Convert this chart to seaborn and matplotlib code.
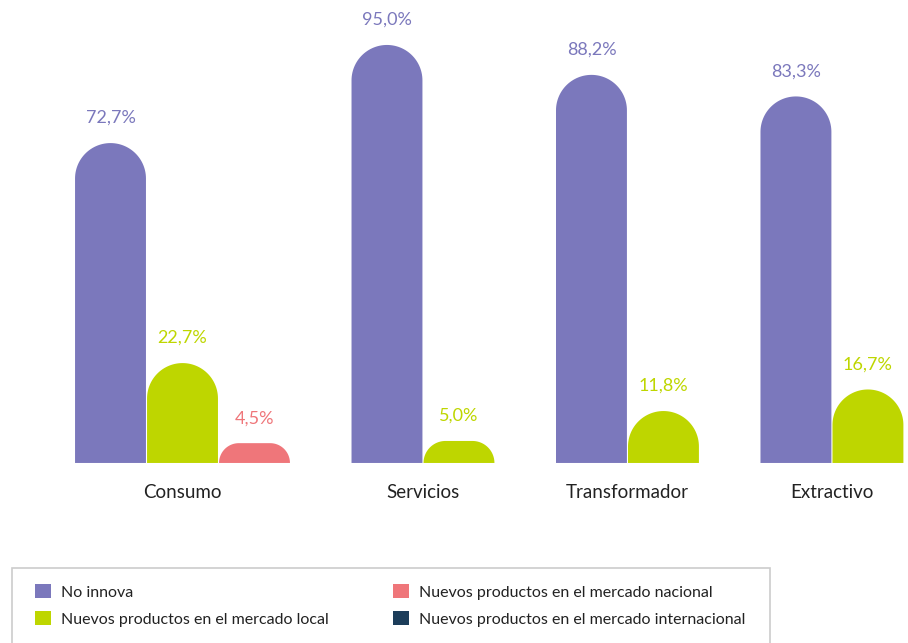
import numpy as np
import pandas as pd
import seaborn as sns
import matplotlib.pyplot as plt
from matplotlib.path import Path
from matplotlib.patches import PathPatch, Patch, Rectangle

# data
categories = ["Consumo", "Servicios", "Transformador", "Extractivo"]
series = ["No innova",
          "Nuevos productos en el mercado local",
          "Nuevos productos en el mercado nacional",
          "Nuevos productos en el mercado internacional"]
no_innova = [72.7, 95.0, 88.2, 83.3]
local = [22.7, 5.0, 11.8, 16.7]
nacional = [4.5, 0.0, 0.0, 0.0]
internacional = [0.0, 0.0, 0.0, 0.0]
colors = ["#7B78BC", "#BED600", "#EF767A", "#1C3D5A"]

# long table, only non-zero bars are drawn; groups packed one after another
group_gap = 0.84
rows = []
offset = 0.0
centers = []
for i, cat in enumerate(categories):
    vals = [no_innova[i], local[i], nacional[i], internacional[i]]
    k = 0
    for s, v in zip(series, vals):
        if v > 0:
            rows.append({"categoria": cat, "serie": s, "valor": v, "pos": offset + k})
            k += 1
    centers.append(offset + (k - 1) / 2)
    offset += k + group_gap
df = pd.DataFrame(rows)

sns.set_style("white")
plt.rcParams["font.family"] = ["Lato", "DejaVu Sans"]

fig = plt.figure(figsize=(9.08, 6.43), dpi=100)
ax = fig.add_axes([0, 0.28, 1, 0.6843])

palette = dict(zip(series, colors))
sns.barplot(data=df, x="pos", y="valor", hue="serie", palette=palette,
            native_scale=True, dodge=False, width=0.985, legend=False,
            saturation=1, ax=ax)

ax.set_xlim(-110.5 / 72, (908 - 110.5) / 72)
ax.set_ylim(0, 100)
sns.despine(ax=ax, left=True, bottom=True)
ax.set_yticks([])
ax.set_xticks(centers)
ax.set_xticklabels(categories, fontsize=13.5, color="#222222")
ax.tick_params(axis="x", length=0, pad=15)
ax.set_xlabel("")
ax.set_ylabel("")

# pixels per data unit, to make the rounded tops circular
p0 = ax.transData.transform((0, 0))
p1 = ax.transData.transform((1, 1))
sx, sy = p1[0] - p0[0], p1[1] - p0[1]

bars = list(ax.patches)
for bar in bars:
    x0, w, h = bar.get_x(), bar.get_width(), bar.get_height()
    if h <= 0:
        bar.remove()
        continue
    r_px = min(w * sx / 2, h * sy)
    rx, ry = r_px / sx, r_px / sy
    t = np.linspace(np.pi, np.pi / 2, 30)
    left = np.column_stack([x0 + rx + rx * np.cos(t), h - ry + ry * np.sin(t)])
    t = np.linspace(np.pi / 2, 0, 30)
    right = np.column_stack([x0 + w - rx + rx * np.cos(t), h - ry + ry * np.sin(t)])
    verts = np.vstack([[x0, 0], left, right, [x0 + w, 0], [x0, 0]])
    codes = [Path.MOVETO] + [Path.LINETO] * (len(verts) - 2) + [Path.CLOSEPOLY]
    fc = bar.get_facecolor()
    bar.remove()
    ax.add_patch(PathPatch(Path(verts, codes), facecolor=fc, edgecolor="none"))
    ax.annotate(f"{h:.1f}%".replace(".", ","), (x0 + w / 2, h),
                xytext=(0, 18), textcoords="offset points",
                ha="center", va="center", fontsize=13, color=fc)

# legend without its own frame, box drawn separately (runs off the bottom edge)
handles = [Patch(facecolor=c, edgecolor="none") for c in colors]
leg = fig.legend(handles, series, ncol=2, loc="upper left",
                 bbox_to_anchor=(35 / 908, 1 - 634 / 643, 710 / 908, 50 / 643),
                 mode="expand", fontsize=11.5, frameon=False,
                 handlelength=1.0, handleheight=1.0, handletextpad=0.6,
                 labelspacing=0.72, borderpad=0, borderaxespad=0)
for txt in leg.get_texts():
    txt.set_color("#222222")
fig.add_artist(Rectangle((12 / 908, -0.02), 758 / 908, 0.02 + 1 - 568 / 643,
                         transform=fig.transFigure, fill=False,
                         edgecolor="#cccccc", linewidth=1.2))

plt.savefig("out.png", dpi=100)
